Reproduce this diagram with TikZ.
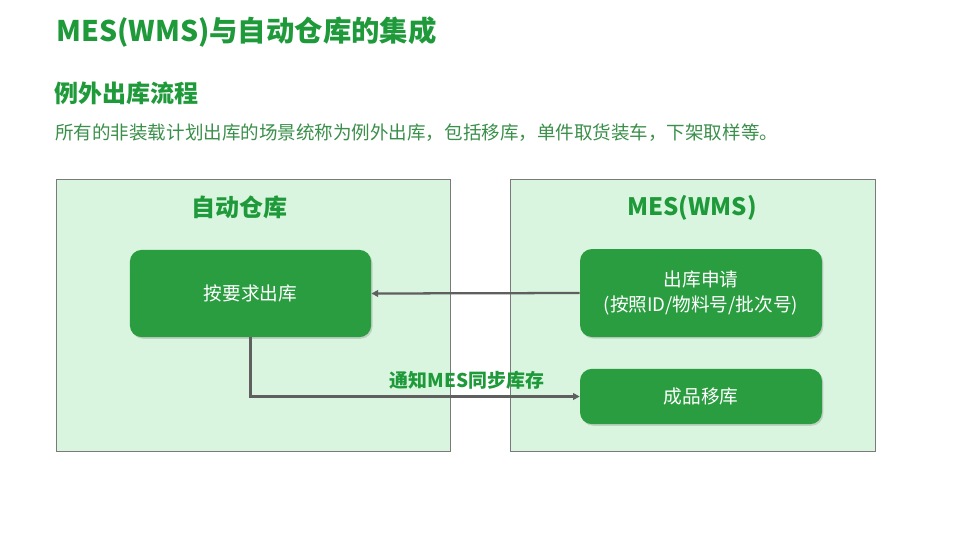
\documentclass[tikz,border=0pt]{standalone}
\usepackage{fontspec}
\setmainfont{Noto Sans CJK SC}
\usetikzlibrary{shadows,arrows.meta}
\definecolor{titlegreen}{HTML}{1F9A3A}
\definecolor{bodygreen}{HTML}{3A8F4A}
\definecolor{panelfill}{HTML}{D9F5DF}
\definecolor{panelline}{HTML}{7A7A7A}
\definecolor{boxgreen}{HTML}{2A9D40}
\definecolor{arrowgray}{HTML}{5F5F5F}
\tikzset{
  panel/.style={draw=panelline, line width=0.6pt, fill=panelfill, inner sep=0pt,
    drop shadow={shadow xshift=1pt, shadow yshift=-1pt, opacity=0.25}},
  stepbox/.style={fill=boxgreen, rounded corners=9pt, text=white, align=center,
    font=\fontsize{14}{19}\selectfont, inner sep=0pt,
    drop shadow={shadow xshift=1pt, shadow yshift=-1.2pt, opacity=0.3}},
  paneltitle/.style={text=titlegreen, font=\fontsize{18}{22}\selectfont\bfseries},
  flow/.style={draw=arrowgray, line width=1.7pt, -{Triangle[length=5pt,width=5pt]}},
}
\begin{document}
\begin{tikzpicture}[x=0.75pt,y=-0.75pt]
\useasboundingbox (0,0) rectangle (960,540);
\fill[white] (0,0) rectangle (960,540);
% headings
\node[anchor=west, inner sep=0pt, text=titlegreen, font=\fontsize{21.3}{25}\selectfont\bfseries] (title) at (56,32) {MES(WMS)与自动仓库的集成};
\node[anchor=west, inner sep=0pt, text=titlegreen, font=\fontsize{18}{21}\selectfont\bfseries] (sub) at (54,93) {例外出库流程};
\node[anchor=west, inner sep=0pt, text=bodygreen, font=\fontsize{13.9}{17}\selectfont] (body) at (55,133) {所有的非装载计划出库的场景统称为例外出库，包括移库，单件取货装车，下架取样等。};
% panels
\node[panel, minimum width=295.5pt, minimum height=204pt] (wh) at (253,315) {};
\node[panel, minimum width=273.75pt, minimum height=204pt] (mes) at (692.5,315) {};
\node[paneltitle] (whtitle) at (239,207) {自动仓库};
\node[paneltitle] (mestitle) at (692,208) {MES(WMS)};
% step boxes
\node[stepbox, minimum width=181pt, minimum height=65.5pt] (out) at (250.5,293.5) {按要求出库};
\node[stepbox, minimum width=181.5pt, minimum height=66pt] (req) at (701,293) {出库申请\\(按照ID/物料号/批次号)};
\node[stepbox, minimum width=181.5pt, minimum height=41.5pt] (move) at (701,396.5) {成品移库};
% connectors
\draw[flow] (req.west) -- (out.east);
\coordinate (bend) at (out.south |- move.west);
\draw[flow] (out.south) -- (bend) -- (move.west);
\node[text=titlegreen, font=\fontsize{14.2}{17}\selectfont\bfseries, inner sep=0pt] (note) at (467,380) {通知MES同步库存};
\end{tikzpicture}
\end{document}
